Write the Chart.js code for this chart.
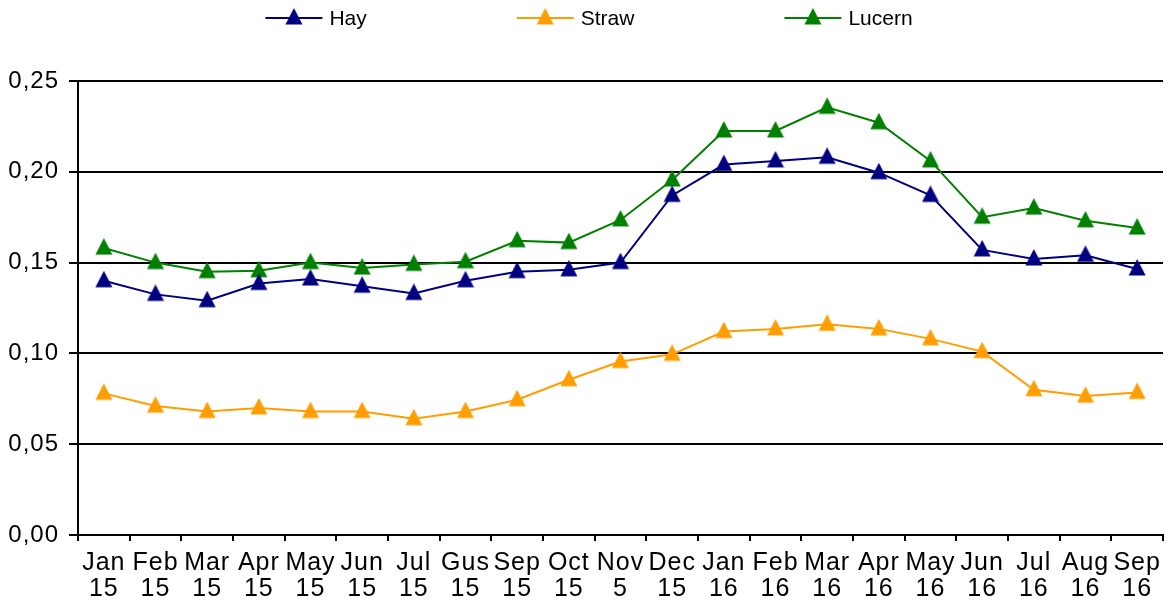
<!DOCTYPE html>
<html>
<head>
<meta charset="utf-8">
<title>Hay, Straw, Lucern</title>
<script src="https://cdn.jsdelivr.net/npm/chart.js@4/dist/chart.umd.min.js"></script>
<style>
    html, body { margin: 0; padding: 0; background: #fff; }
    #wrap { width: 1174px; height: 605px; position: relative; }
</style>
</head>
<body>
<div id="wrap"><canvas id="grafico"></canvas></div>
<script>
// month labels (two lines: month / year)
const mesi = ["Jan", "Feb", "Mar", "Apr", "May", "Jun", "Jul", "Gus", "Sep", "Oct", "Nov",
    "Dec", "Jan", "Feb", "Mar", "Apr", "May", "Jun", "Jul", "Aug", "Sep"];
const anni = ["15", "15", "15", "15", "15", "15", "15", "15", "15", "15", "5",
    "15", "16", "16", "16", "16", "16", "16", "16", "16", "16"];

const hay = [0.140, 0.1325, 0.129, 0.1385, 0.141, 0.137, 0.133, 0.140, 0.145, 0.146, 0.150,
    0.187, 0.204, 0.206, 0.208, 0.1995, 0.187, 0.157, 0.152, 0.154, 0.1465];
const straw = [0.078, 0.071, 0.068, 0.070, 0.068, 0.068, 0.064, 0.068, 0.0745, 0.0855, 0.0955,
    0.0995, 0.112, 0.1135, 0.116, 0.1135, 0.108, 0.101, 0.080, 0.0765, 0.0785];
const lucern = [0.158, 0.150, 0.145, 0.1455, 0.150, 0.147, 0.149, 0.1505, 0.162, 0.161, 0.1735,
    0.1955, 0.2225, 0.2225, 0.2355, 0.227, 0.206, 0.175, 0.180, 0.173, 0.169];

const yTicks = [0, 0.05, 0.10, 0.15, 0.20, 0.25];

const FONT = "'Liberation Sans', Arial, sans-serif";

// triangle marker like Excel's (a bit taller than equilateral), apex above the point
function triangolo(colore) {
    const c = document.createElement('canvas');
    c.width = 18;
    c.height = 20;
    const g = c.getContext('2d');
    g.fillStyle = colore;
    g.beginPath();
    g.moveTo(9, 0);
    g.lineTo(17.5, 16.5);
    g.lineTo(0.5, 16.5);
    g.closePath();
    g.fill();
    return c;
}

function serie(label, data, colore) {
    return {
        label: label,
        data: data,
        borderColor: colore,
        backgroundColor: colore,
        borderWidth: 2,
        pointStyle: triangolo(colore),
        pointRadius: 9,
        pointHoverRadius: 9,
        tension: 0,
        fill: false
    };
}

// axis labels of the original are drawn wide: add a little letter spacing to them
const spaziatura = {
    id: 'spaziatura',
    beforeDraw(chart) { chart.ctx.letterSpacing = '1px'; },
    beforeDatasetsDraw(chart) { chart.ctx.letterSpacing = '0px'; }
};

// Excel-like legend: line with a triangle in the middle, then the text
const legendaExcel = {
    id: 'legendaExcel',
    afterDraw(chart) {
        const ctx = chart.ctx;
        const lineW = 57, gap = 7, spazio = 150, y = 18;
        ctx.save();
        ctx.letterSpacing = '0px';
        ctx.font = "21px " + FONT;
        const items = chart.data.datasets.map(ds => ({
            ds: ds,
            w: lineW + gap + ctx.measureText(ds.label).width
        }));
        const totale = items.reduce((s, it) => s + it.w, 0) + spazio * (items.length - 1);
        let x = 589 - totale / 2;
        items.forEach(it => {
            ctx.strokeStyle = it.ds.borderColor;
            ctx.lineWidth = 2;
            ctx.beginPath();
            ctx.moveTo(x, y);
            ctx.lineTo(x + lineW, y);
            ctx.stroke();
            const img = it.ds.pointStyle;
            ctx.drawImage(img, x + lineW / 2 - img.width / 2, y - img.height / 2);
            ctx.fillStyle = '#000';
            ctx.textBaseline = 'middle';
            ctx.textAlign = 'left';
            ctx.fillText(it.ds.label, x + lineW + gap, y + 1);
            x += it.w + spazio;
        });
        ctx.restore();
    }
};

const ctx = document.getElementById("grafico").getContext("2d");

new Chart(ctx, {
    type: 'line',
    data: {
        labels: mesi.map((m, i) => [m, anni[i]]),
        datasets: [
            serie('Hay', hay, '#000080'),
            serie('Straw', straw, '#FF9E00'),
            serie('Lucern', lucern, '#008000')
        ]
    },
    options: {
        responsive: true,
        maintainAspectRatio: false,
        animation: false,
        layout: { padding: { top: 81, right: 4, left: 0, bottom: 0 } },
        plugins: {
            legend: { display: false },
            tooltip: { enabled: false }
        },
        scales: {
            x: {
                offset: true,
                afterFit(scale) { scale.height = 70; },
                grid: {
                    offset: true,
                    drawOnChartArea: false,
                    drawTicks: true,
                    tickLength: 6,
                    color: '#000',
                    lineWidth: 2
                },
                border: { display: true, color: '#000', width: 2 },
                ticks: {
                    color: '#000',
                    padding: 9,
                    maxRotation: 0,
                    autoSkip: false,
                    font: { family: FONT, size: 25, lineHeight: 1.05 }
                }
            },
            y: {
                min: 0,
                max: 0.25,
                afterFit(scale) { scale.width = 78; },
                afterBuildTicks(scale) { scale.ticks = yTicks.map(v => ({ value: v })); },
                grid: {
                    color: '#000',
                    lineWidth: 2,
                    drawTicks: true,
                    tickLength: 9
                },
                border: { display: true, color: '#000', width: 2 },
                ticks: {
                    color: '#000',
                    padding: 10,
                    font: { family: FONT, size: 24 },
                    callback: v => v.toFixed(2).replace('.', ',')
                }
            }
        }
    },
    plugins: [spaziatura, legendaExcel]
});
</script>
</body>
</html>
